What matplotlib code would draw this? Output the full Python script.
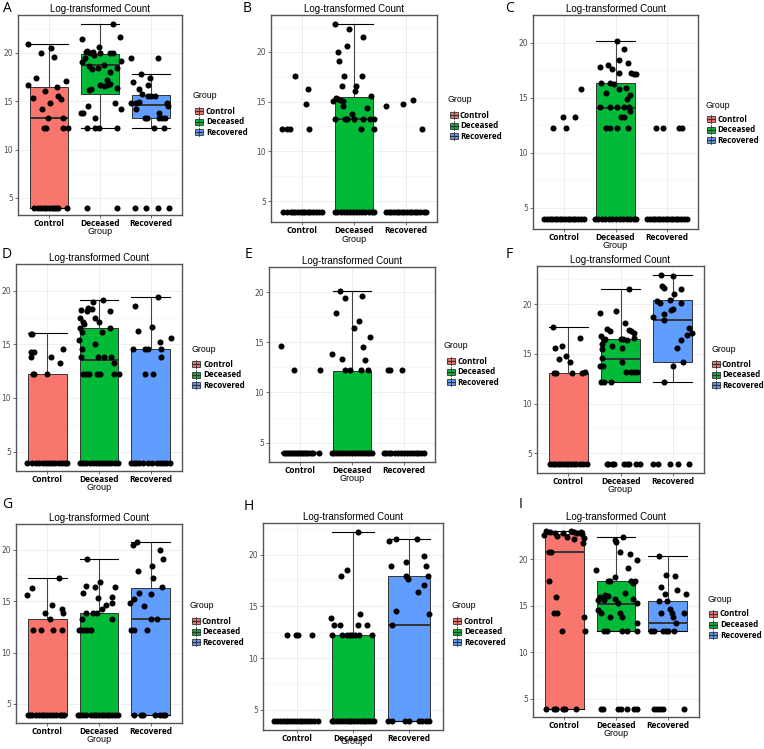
import matplotlib
matplotlib.use("Agg")
import matplotlib.pyplot as plt
from matplotlib.patches import Rectangle
from matplotlib.lines import Line2D

W, H = 764, 749
groups = ["Control", "Deceased", "Recovered"]
colors = ["#F8766D", "#00BA38", "#619CFF"]
FLOOR = 3.93

# box stats per group: whisker low, q1, median, q3, whisker high
A_box = [[3.93, 3.93, 13.24, 16.43, 20.9], [12.24, 15.8, 18.8, 19.85, 23.0], [12.24, 13.27, 14.58, 15.64, 17.87]]
A_y = [[20.9, 20.03, 20.5, 19.6, 17.4, 17.1, 16.7, 16.5, 16.1, 15.6, 15.2, 15.3, 14.85, 14.2, 13.3, 13.3, 12.24, 12.24, 12.24, 12.24],
       [23.0, 21.7, 21.4, 20.6, 20.2, 20.1, 20.0, 20.1, 19.95, 19.95, 19.95, 19.95, 19.1, 19.5, 19.75, 19.2, 18.4, 18.8, 18.3, 18.4, 18.7,
        18.05, 17.2, 16.8, 16.65, 16.55, 16.3, 16.15, 16.4, 16.7, 13.8, 13.8, 14.5, 14.85, 14.25, 13.25, 12.24, 12.24, 12.24, 12.24],
       [19.5, 19.5, 17.87, 17.4, 17.0, 16.7, 16.3, 15.8, 15.5, 15.6, 15.6, 14.8, 14.8, 14.95, 14.2, 14.8, 14.5, 13.8,
        13.27, 13.27, 13.27, 13.27, 13.27, 12.24, 12.24]]
A_dx = [[-0.41, -0.15, 0.05, 0.10, -0.24, 0.34, -0.41, 0.16, -0.08, 0.18, 0.23, -0.30, 0.03, -0.13, -0.01, 0.28, -0.09, -0.05, 0.28, 0.37],
        [0.26, 0.39, -0.35, -0.01, -0.25, -0.28, -0.20, -0.13, -0.16, 0.0, 0.20, 0.26, -0.36, -0.30, -0.12, 0.41, 0.34, 0.07, -0.16, -0.03, -0.21,
         0.20, 0.13, 0.20, 0.0, 0.07, -0.18, -0.22, 0.33, 0.13, -0.38, -0.33, -0.23, 0.30, 0.41, -0.10, -0.25, -0.10, -0.01, 0.34],
        [-0.39, 0.14, -0.20, -0.03, -0.36, -0.07, -0.23, -0.18, -0.07, 0.0, 0.07, -0.39, -0.30, -0.23, -0.30, 0.30, 0.33, 0.16,
         -0.13, -0.09, 0.15, 0.21, 0.26, 0.05, 0.24]]
A_floor = [[-0.28, -0.21, -0.16, -0.10, -0.05, 0.0, 0.07, 0.10, 0.14, 0.18, 0.36],
           [-0.25, 0.34],
           [-0.31, -0.10, 0.14, 0.34]]

B_box = [[3.93, 3.93, 3.93, 3.93, 3.93], [3.93, 3.93, 13.27, 15.48, 22.75], [3.93, 3.93, 3.93, 3.93, 3.93]]
B_y = [[12.2, 12.2, 12.2, 17.55, 16.3, 14.8, 12.2],
       [22.75, 22.24, 21.5, 20.57, 20.0, 19.1, 17.55, 17.6, 16.55, 16.6, 16.05, 15.55, 15.4, 15.3, 15.2, 15.1, 15.08, 14.31, 14.55, 13.8,
        13.27, 13.27, 13.27, 13.27, 13.27, 13.27, 13.27, 12.2, 12.2],
       [14.55, 14.8, 15.2, 12.2]]
B_dx = [[-0.38, -0.29, -0.24, -0.14, 0.12, 0.08, 0.13],
        [-0.37, -0.10, 0.18, -0.13, -0.30, -0.28, -0.19, 0.15, -0.23, 0.04, 0.01, 0.33, -0.35, -0.30, -0.27, -0.22, -0.40, 0.25, -0.22, -0.04,
         -0.17, -0.14, 0.0, 0.18, 0.31, 0.38, -0.37, 0.13, 0.38],
        [-0.38, -0.06, 0.13, 0.31]]
B_floor = [[-0.37, -0.29, -0.22, -0.18, -0.13, -0.08, -0.03, 0.01, 0.06, 0.12, 0.16, 0.21, 0.26, 0.32, 0.38],
           [-0.37, -0.32, -0.26, -0.20, -0.14, -0.08, -0.02, 0.04, 0.10, 0.16, 0.22, 0.28, 0.34, 0.38],
           [-0.38, -0.33, -0.28, -0.23, -0.18, -0.13, -0.08, -0.03, 0.02, 0.07, 0.12, 0.17, 0.22, 0.28, 0.34, 0.38]]

C_box = [[3.93, 3.93, 3.93, 3.93, 3.93], [3.93, 3.93, 14.04, 16.28, 20.11], [3.93, 3.93, 3.93, 3.93, 3.93]]
C_y = [[12.22, 13.25, 12.22, 13.25, 15.8],
       [20.1, 19.4, 18.43, 18.15, 17.93, 17.8, 17.6, 17.26, 17.26, 17.1, 17.1, 16.28, 16.36, 16.2, 15.8, 15.91, 15.41, 15.24, 14.82,
        14.18, 14.18, 14.18, 14.18, 14.18, 13.8, 13.25, 13.25, 12.22, 12.22, 12.22, 12.22],
       [12.22, 12.22, 12.22, 12.22]]
C_dx = [[-0.22, -0.01, 0.04, 0.21, 0.33],
        [0.03, 0.16, 0.06, 0.25, -0.15, -0.31, -0.07, 0.06, 0.30, 0.35, 0.39, -0.29, -0.11, -0.02, 0.06, 0.21, -0.19, 0.28, 0.22,
         -0.31, -0.10, 0.03, 0.16, 0.27, 0.29, 0.11, 0.17, -0.18, -0.11, 0.02, 0.24],
        [-0.21, -0.08, 0.24, 0.28]]
C_floor = [[-0.38, -0.33, -0.28, -0.23, -0.18, -0.13, -0.08, -0.03, 0.02, 0.07, 0.12, 0.17, 0.22, 0.27, 0.33, 0.38],
           [-0.40, -0.33, -0.27, -0.20, -0.13, -0.06, 0.0, 0.08, 0.15, 0.22, 0.29, 0.35, 0.40],
           [-0.38, -0.33, -0.28, -0.23, -0.18, -0.13, -0.08, -0.03, 0.02, 0.07, 0.12, 0.17, 0.22, 0.27, 0.33, 0.38]]

D_box = [[3.93, 3.93, 3.93, 12.23, 16.06], [3.93, 3.93, 13.54, 16.52, 19.18], [3.93, 3.93, 3.93, 14.58, 19.45]]
D_y = [[16.0, 15.95, 14.25, 14.25, 13.84, 12.28, 12.28, 12.28, 13.84, 13.24, 14.6],
       [19.18, 19.0, 18.25, 18.36, 18.3, 18.14, 18.08, 17.5, 17.5, 17.07, 16.93, 17.07, 16.52, 16.17, 16.52, 16.17, 15.43, 15.07, 14.6,
        13.87, 13.87, 13.87, 13.87, 13.24, 12.23, 12.23, 12.23, 12.23, 12.23, 12.23, 12.23],
       [18.58, 19.45, 16.25, 16.58, 14.58, 14.58, 14.58, 14.58, 15.24, 15.57, 13.84, 12.23, 12.23]]
D_dx = [[-0.32, -0.30, -0.31, -0.26, -0.32, -0.28, -0.26, 0.0, 0.08, 0.24, 0.30],
        [0.07, -0.11, -0.35, -0.22, -0.14, 0.21, -0.24, -0.37, -0.08, -0.30, -0.29, 0.0, -0.37, -0.32, 0.22, 0.06, -0.38, -0.08, -0.33,
         -0.35, -0.01, 0.10, 0.23, 0.28, -0.31, -0.26, -0.19, -0.03, 0.02, 0.28, 0.39],
        [-0.31, 0.14, -0.25, 0.03, -0.35, -0.12, -0.06, 0.19, 0.18, 0.39, 0.20, -0.12, 0.05]]
D_floor = [[-0.38, -0.30, -0.22, -0.15, -0.08, -0.02, 0.04, 0.10, 0.16, 0.22, 0.28, 0.34, 0.38],
           [-0.37, -0.31, -0.25, -0.18, -0.12, -0.06, 0.0, 0.06, 0.12, 0.18, 0.24, 0.30, 0.36],
           [-0.38, -0.33, -0.28, -0.22, -0.15, -0.06, 0.03, 0.12, 0.18, 0.24, 0.30, 0.36]]

E_box = [[3.93, 3.93, 3.93, 3.93, 3.93], [3.93, 3.93, 3.93, 12.16, 20.12], [3.93, 3.93, 3.93, 3.93, 3.93]]
E_y = [[14.6, 12.26, 12.26],
       [20.12, 19.6, 19.39, 17.92, 17.15, 16.45, 15.56, 14.49, 13.88, 13.33, 13.27, 12.26, 12.26, 12.26, 12.26],
       [12.26, 12.26, 12.26]]
E_dx = [[-0.37, -0.12, 0.38],
        [-0.24, 0.19, -0.14, -0.30, 0.13, 0.03, 0.34, 0.21, -0.39, -0.19, 0.26, -0.13, -0.03, 0.17, 0.30],
        [-0.31, -0.26, -0.03]]
E_floor = [[-0.32, -0.28, -0.24, -0.20, -0.16, -0.12, -0.08, -0.04, 0.0, 0.04, 0.08, 0.12, 0.16, 0.20, 0.24, 0.37],
           [-0.38, -0.34, -0.29, -0.24, -0.18, -0.12, -0.06, 0.0, 0.06, 0.12, 0.18, 0.23, 0.28, 0.33, 0.38],
           [-0.38, -0.34, -0.29, -0.24, -0.18, -0.12, -0.06, 0.0, 0.06, 0.12, 0.18, 0.23, 0.28, 0.33, 0.38]]

F_box = [[3.93, 3.93, 3.93, 13.12, 17.65], [12.18, 12.18, 14.53, 16.48, 21.54], [12.18, 14.19, 18.39, 20.4, 22.89]]
F_y = [[17.65, 16.64, 15.54, 15.77, 14.76, 14.53, 14.19, 13.19, 13.12, 13.12, 13.12, 13.12],
       [21.54, 19.13, 19.33, 18.12, 17.45, 17.28, 17.38, 17.28, 17.05, 16.78, 16.38, 15.97, 16.54, 15.77, 16.54, 16.51, 16.38, 16.64,
        15.44, 15.54, 14.6, 13.76, 13.76, 14.19, 13.19, 13.19, 13.19, 13.19, 12.18, 12.18, 12.18],
       [22.89, 22.82, 21.85, 21.64, 21.48, 20.97, 20.4, 20.34, 20.07, 20.07, 19.46, 19.36, 18.66, 18.99, 18.39, 17.55, 17.05, 16.88,
        16.38, 15.54, 14.19, 13.79, 12.18]]
F_dx = [[-0.29, 0.22, -0.26, -0.12, -0.05, -0.17, 0.03, 0.32, -0.28, -0.23, 0.08, 0.27],
        [0.17, -0.39, -0.08, 0.08, -0.26, -0.21, 0.16, 0.21, 0.26, -0.37, -0.32, -0.35, -0.29, -0.17, 0.0, 0.05, 0.13, 0.26,
         -0.35, 0.03, -0.35, -0.39, -0.34, 0.03, 0.10, 0.21, 0.26, 0.31, -0.37, -0.31, -0.18],
        [-0.23, 0.01, -0.21, -0.17, 0.15, 0.02, -0.06, -0.30, -0.25, 0.16, 0.0, -0.03, -0.37, -0.16, -0.17, 0.31, 0.37, 0.28,
         0.16, 0.08, 0.20, 0.0, -0.17]]
F_floor = [[-0.35, -0.30, -0.25, -0.20, -0.15, -0.10, -0.05, 0.0, 0.05, 0.10, 0.15, 0.22, 0.29, 0.35],
           [-0.26, -0.23, -0.17, -0.13, 0.06, 0.13, 0.17, 0.30, 0.37],
           [-0.37, -0.28, -0.06, 0.10, 0.31]]

G_box = [[3.93, 3.93, 3.93, 13.22, 17.29], [3.93, 3.93, 3.93, 13.84, 19.08], [3.93, 3.93, 13.22, 16.3, 20.77]]
G_y = [[17.29, 15.6, 16.27, 13.84, 14.61, 13.22, 14.24, 13.84, 12.24, 12.24, 12.24, 12.24],
       [19.08, 16.46, 15.78, 16.36, 16.83, 16.36, 15.29, 15.44, 14.86, 14.61, 14.24, 13.22, 13.84, 13.84, 13.84, 13.22,
        12.24, 12.24, 12.24, 12.24, 12.24],
       [20.46, 20.77, 20.0, 19.08, 17.94, 18.37, 17.23, 16.37, 14.86, 15.23, 15.78, 14.55, 15.69, 13.22, 13.22, 12.24, 12.24, 12.24]]
G_dx = [[0.23, -0.39, -0.29, -0.05, 0.10, 0.06, 0.28, 0.31, -0.28, -0.11, 0.12, 0.28],
        [-0.23, -0.26, -0.30, -0.08, 0.01, 0.31, -0.02, 0.26, 0.26, 0.14, 0.05, -0.32, -0.25, -0.11, -0.03, 0.26,
         -0.39, -0.34, -0.29, -0.23, -0.15],
        [-0.35, -0.27, 0.17, 0.23, -0.25, 0.03, 0.05, 0.21, -0.40, -0.32, -0.22, -0.13, 0.0, 0.01, 0.12, -0.39, -0.32, -0.08]]
G_floor = [[-0.37, -0.33, -0.29, -0.22, -0.16, -0.10, -0.06, 0.0, 0.06, 0.12, 0.18, 0.24, 0.29, 0.33],
           [-0.40, -0.36, -0.30, -0.26, -0.15, -0.10, -0.05, 0.0, 0.05, 0.10, 0.15, 0.20, 0.25, 0.31, 0.36],
           [-0.32, -0.19, -0.15, 0.08, 0.17, 0.23, 0.28]]

H_box = [[3.93, 3.93, 3.93, 3.93, 3.93], [3.93, 3.93, 3.93, 12.23, 22.18], [3.93, 3.93, 13.19, 17.91, 21.54]]
H_y = [[12.23, 12.23, 12.23, 12.23],
       [22.18, 18.55, 17.91, 13.83, 13.19, 13.19, 14.22, 13.19, 13.19, 12.23, 12.23, 12.23, 12.23, 12.23, 12.23, 12.23, 12.23],
       [21.32, 21.45, 21.54, 18.88, 19.23, 19.87, 18.88, 17.91, 17.62, 17.91, 17.04, 16.4, 14.54, 14.22, 13.19]]
H_dx = [[-0.17, -0.02, 0.03, 0.27],
        [0.09, -0.11, -0.21, -0.39, -0.33, -0.23, 0.13, 0.08, 0.25, -0.38, -0.20, -0.11, -0.05, -0.01, 0.04, 0.11, 0.34],
        [-0.36, -0.24, 0.14, -0.33, -0.06, 0.26, 0.30, -0.06, -0.02, 0.33, 0.27, 0.15, -0.23, 0.36, -0.31]]
H_floor = [[-0.40, -0.35, -0.30, -0.25, -0.20, -0.15, -0.10, -0.05, 0.0, 0.05, 0.10, 0.15, 0.20, 0.25, 0.30, 0.37],
           [-0.38, -0.33, -0.28, -0.23, -0.18, -0.13, -0.08, -0.03, 0.02, 0.07, 0.12, 0.17, 0.22, 0.27, 0.32, 0.38],
           [-0.37, -0.30, -0.07, -0.01, 0.18, 0.23, 0.29, 0.36]]

I_box = [[3.93, 3.93, 20.72, 22.7, 22.99], [12.27, 12.27, 15.18, 17.59, 22.37], [12.27, 12.27, 13.17, 15.54, 20.29]]
I_y = [[23.06, 22.63, 22.88, 22.81, 22.45, 22.81, 22.37, 22.99, 22.91, 22.81, 22.88, 22.73, 22.16, 22.27, 21.73, 20.72, 20.72,
        17.59, 15.97, 14.24, 14.24, 12.27, 13.81, 12.27],
       [22.37, 22.09, 21.83, 20.72, 20.54, 19.93, 18.85, 19.03, 18.06, 17.66, 17.59, 17.66, 17.48, 17.59, 15.61, 15.97, 16.15, 16.08,
        15.61, 15.68, 16.33, 15.68, 15.25, 15.25, 14.53, 14.24, 13.81, 14.24, 13.81, 13.17, 12.27, 12.27, 12.27, 12.27, 12.27],
       [20.29, 18.31, 18.2, 16.98, 16.69, 16.26, 16.26, 15.54, 15.54, 14.24, 14.6, 14.24, 13.81, 14.24, 13.17,
        12.27, 12.27, 12.27, 12.27, 12.27, 12.27]]
I_dx = [[-0.34, -0.39, -0.28, -0.18, -0.13, -0.02, 0.06, 0.14, 0.19, 0.24, 0.32, 0.35, 0.19, 0.38, 0.37, -0.29, -0.26,
         -0.29, -0.15, -0.19, -0.13, -0.05, 0.38, 0.40],
        [0.14, -0.02, 0.0, 0.08, 0.27, 0.40, -0.39, 0.24, -0.02, -0.15, -0.11, 0.29, 0.32, 0.37, -0.34, -0.31, -0.22, -0.15,
         -0.24, -0.01, 0.17, 0.32, 0.04, 0.40, -0.34, -0.28, -0.12, 0.08, 0.11, 0.40, -0.24, -0.18, 0.11, 0.22, 0.40],
        [-0.17, -0.04, 0.13, -0.13, 0.18, -0.05, 0.35, -0.17, -0.02, -0.14, 0.05, 0.08, 0.10, 0.31, 0.15,
         -0.32, -0.26, -0.10, -0.03, 0.01, 0.12]]
I_floor = [[-0.34, -0.19, -0.15, -0.02, 0.01, 0.22],
           [-0.29, -0.26, 0.03, 0.10, 0.21, 0.35, 0.40],
           [-0.26, -0.21, -0.16, -0.10, 0.32]]

y_limits = [(3.24, 23.93), (2.92, 23.68), (3.05, 21.03),
            (3.19, 20.16), (3.07, 20.92), (3.02, 23.83),
            (3.15, 21.6), (3.07, 23.04), (3.02, 23.88)]

panels = [("A", A_box, A_y, A_dx, A_floor), ("B", B_box, B_y, B_dx, B_floor), ("C", C_box, C_y, C_dx, C_floor),
          ("D", D_box, D_y, D_dx, D_floor), ("E", E_box, E_y, E_dx, E_floor), ("F", F_box, F_y, F_dx, F_floor),
          ("G", G_box, G_y, G_dx, G_floor), ("H", H_box, H_y, H_dx, H_floor), ("I", I_box, I_y, I_dx, I_floor)]

# layout in pixels: axes (left, top, right, bottom), panel letter, legend
axes_px = [(18, 15, 182, 215), (271, 15, 437, 222), (533, 15, 698, 229),
           (16, 264, 182, 471), (269, 267, 435, 462), (537, 266, 704, 473),
           (16, 524, 182, 723), (263, 523, 443, 730), (533, 523, 699, 717)]
letter_px = [(7, 9), (247, 9), (509, 8), (7, 255), (249, 255), (509, 255), (7, 505), (249, 506), (521, 505)]
# legend: title x, title y, key centre x, text x, first item y
legend_px = [(193, 96, 199, 206, 111), (448, 100, 454, 460, 115), (705, 105, 711, 717, 119),
             (191, 349, 196, 203, 364), (444, 346, 451, 457, 361), (711, 349, 716, 722, 364),
             (190, 606, 196, 202, 621), (452, 606, 457, 464, 621), (708, 599, 713, 720, 614)]
LEG_STEP = 10.6

EDGE = "#333333"


def fx(x):
    return x / W


def fy(y):
    return 1 - y / H


def draw_panel(ax, box, ys, dxs, floors, ylim):
    stats = [dict(whislo=b[0], q1=b[1], med=b[2], q3=b[3], whishi=b[4], fliers=[]) for b in box]
    bp = ax.bxp(stats, positions=[1, 2, 3], widths=0.75, capwidths=0.75, patch_artist=True,
                showfliers=False, manage_ticks=False,
                boxprops=dict(edgecolor=EDGE, linewidth=0.7),
                medianprops=dict(color=EDGE, linewidth=1.4),
                whiskerprops=dict(color="#444444", linewidth=0.8),
                capprops=dict(color="black", linewidth=0.8))
    for patch, c in zip(bp["boxes"], colors):
        patch.set_facecolor(c)

    for i in range(3):
        ax.scatter([i + 1 + d for d in dxs[i]], ys[i], s=19, color="black", lw=0, zorder=4)
        ax.scatter([i + 1 + d for d in floors[i]], [FLOOR] * len(floors[i]), s=19, color="black", lw=0, zorder=4)

    ax.set_xlim(0.4, 3.6)
    ax.set_ylim(*ylim)
    ax.set_yticks([5, 10, 15, 20])
    ax.set_yticks([7.5, 12.5, 17.5, 22.5], minor=True)
    ax.set_xticks([1, 2, 3])
    ax.set_xticklabels(groups, fontsize=6, fontweight="bold", family="Open Sans")
    ax.tick_params(axis="both", which="major", length=2, width=0.5, color=EDGE, pad=1.5)
    ax.tick_params(axis="x", which="major", pad=1.0)
    ax.tick_params(axis="y", which="major", labelsize=5.5, labelcolor="#4D4D4D")
    ax.tick_params(axis="y", which="minor", length=0)
    ax.grid(True, which="major", color="#EBEBEB", lw=0.6)
    ax.grid(True, which="minor", axis="y", color="#F3F3F3", lw=0.4)
    ax.set_axisbelow(True)
    for s in ax.spines.values():
        s.set_color("#555555")
        s.set_linewidth(1.0)


def draw_legend(fig, lx, ly, kx, tx, y0):
    fig.text(fx(lx), fy(ly), "Group", fontsize=6.3, family="Liberation Sans", ha="left", va="center")
    for i, (g, c) in enumerate(zip(groups, colors)):
        y = y0 + i * LEG_STEP
        fig.add_artist(Line2D([fx(kx), fx(kx)], [fy(y - 4.2), fy(y + 4.2)], color=EDGE, lw=0.6,
                              transform=fig.transFigure))
        fig.add_artist(Rectangle((fx(kx - 4), fy(y + 3)), 8 / W, 6 / H, facecolor=c, edgecolor=EDGE,
                                 lw=0.6, transform=fig.transFigure))
        fig.add_artist(Line2D([fx(kx - 4), fx(kx + 4)], [fy(y), fy(y)], color=EDGE, lw=0.9,
                              transform=fig.transFigure))
        fig.text(fx(tx), fy(y), g, fontsize=5.8, fontweight="bold", family="Open Sans", ha="left", va="center")


fig = plt.figure(figsize=(W / 100, H / 100), dpi=100)

for k, (letter, box, ys, dxs, floors) in enumerate(panels):
    x0, y0, x1, y1 = axes_px[k]
    ax = fig.add_axes([fx(x0), fy(y1), (x1 - x0) / W, (y1 - y0) / H])
    draw_panel(ax, box, ys, dxs, floors, y_limits[k])
    ax.set_title("Log-transformed Count", fontsize=7, family="Liberation Sans", pad=2.5)
    ax.set_xlabel("Group", fontsize=6.5, family="Liberation Sans")
    # keep the axis title inside the figure for the bottom row
    label_off = min(17, 742 - y1)
    ax.xaxis.set_label_coords(0.5, -label_off / (y1 - y0))
    ax.xaxis.label.set_verticalalignment("center")
    lx, ly = letter_px[k]
    fig.text(fx(lx), fy(ly), letter, fontsize=10, family="Open Sans", ha="center", va="center")
    draw_legend(fig, *legend_px[k])

fig.savefig("out.png", dpi=100)
